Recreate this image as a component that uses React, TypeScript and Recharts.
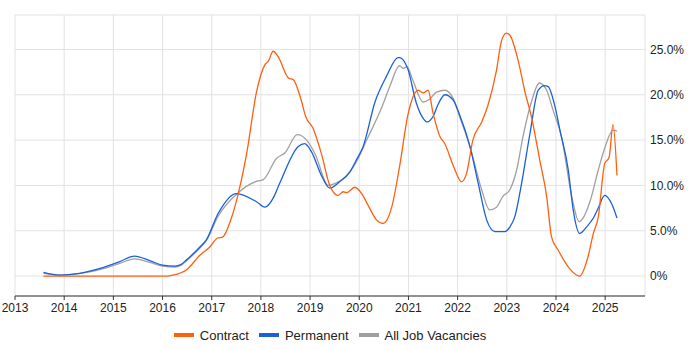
import { LineChart, Line, XAxis, YAxis, CartesianGrid, Legend } from 'recharts';

const yearTicks = [2013, 2014, 2015, 2016, 2017, 2018, 2019, 2020, 2021, 2022, 2023, 2024, 2025];
const pctTicks = [0, 5, 10, 15, 20, 25];

const contractYears = [
  2013.58, 2014.5, 2015.5, 2016.08, 2016.21, 2016.49, 2016.76, 2016.96, 2017.12, 2017.22, 2017.4, 2017.54,
  2017.71, 2017.91, 2018.08, 2018.15, 2018.25, 2018.35, 2018.57, 2018.65, 2018.82, 2018.91, 2019.06, 2019.23,
  2019.4, 2019.57, 2019.67, 2019.74, 2019.91, 2020.05, 2020.18, 2020.35, 2020.48, 2020.66, 2020.82, 2020.99,
  2021.2, 2021.3, 2021.4, 2021.5, 2021.64, 2021.74, 2021.91, 2022.08, 2022.18, 2022.31, 2022.49, 2022.62,
  2022.79, 2022.89, 2022.99, 2023.06, 2023.23, 2023.37, 2023.5, 2023.67, 2023.81, 2023.91, 2024.04, 2024.28,
  2024.48, 2024.65, 2024.76, 2024.86, 2024.99, 2025.08, 2025.16, 2025.24,
];
const contractValues = [
  0, 0, 0, 0, 0.1, 0.7, 2.3, 3.2, 4.2, 4.3, 6.4, 9.1,
  13.5, 20.3, 23.3, 23.7, 24.8, 24.2, 21.8, 21.7, 19.4, 17.6, 16.3, 13.5,
  10.0, 8.9, 9.3, 9.2, 9.8, 9.1, 7.8, 6.2, 5.8, 7.6, 12.1, 17.8,
  20.5, 20.2, 20.5, 18.0, 15.4, 14.6, 12.2, 10.4, 11.3, 15.0, 17.0, 18.9,
  22.7, 25.9, 26.8, 26.6, 23.8, 20.3, 17.6, 12.8, 8.8, 4.3, 2.9, 0.8,
  0, 2.1, 4.7, 6.5, 12.4, 13.1, 16.7, 11.1,
];

const permanentYears = [
  2013.58, 2013.91, 2014.32, 2014.64, 2015.13, 2015.43, 2015.74, 2016.0, 2016.25, 2016.38, 2016.49, 2016.76,
  2016.89, 2017.13, 2017.5, 2017.91, 2018.08, 2018.25, 2018.38, 2018.76, 2018.89, 2019.03, 2019.23, 2019.4,
  2019.6, 2019.81, 2019.94, 2020.08, 2020.32, 2020.55, 2020.79, 2020.82, 2020.99, 2021.16, 2021.3, 2021.38,
  2021.5, 2021.6, 2021.74, 2021.91, 2022.04, 2022.25, 2022.42, 2022.59, 2022.76, 2022.96, 2023.06, 2023.16,
  2023.3, 2023.47, 2023.64, 2023.77, 2023.84, 2023.98, 2024.08, 2024.25, 2024.35, 2024.48, 2024.62, 2024.76,
  2024.86, 2024.99, 2025.13, 2025.24,
];
const permanentValues = [
  0.4, 0.1, 0.3, 0.7, 1.6, 2.2, 1.7, 1.2, 1.1, 1.3, 1.8, 3.2,
  4.0, 6.9, 9.1, 8.2, 7.6, 8.6, 10.2, 14.3, 14.6, 13.7, 11.1, 9.7,
  10.4, 11.5, 12.8, 14.3, 19.2, 22.0, 24.1, 24.1, 22.8, 19.1, 17.4, 17.0,
  17.6, 18.9, 20.0, 19.4, 17.8, 14.3, 10.2, 6.2, 4.9, 4.9, 5.4, 6.5,
  10.2, 15.7, 20.5, 21.0, 20.9, 18.7, 16.1, 11.7, 7.3, 4.7, 5.4, 6.4,
  7.5, 8.9, 8.0, 6.4,
];

const allYears = [
  2013.58, 2013.91, 2014.32, 2014.64, 2015.13, 2015.43, 2015.74, 2016.0, 2016.25, 2016.38, 2016.49, 2016.76,
  2016.89, 2017.13, 2017.5, 2017.94, 2018.04, 2018.32, 2018.49, 2018.74, 2018.93, 2019.1, 2019.37, 2019.5,
  2019.81, 2019.94, 2020.15, 2020.45, 2020.62, 2020.82, 2020.9, 2020.97, 2021.09, 2021.3, 2021.43, 2021.57,
  2021.74, 2021.91, 2022.04, 2022.25, 2022.49, 2022.65, 2022.79, 2022.92, 2023.06, 2023.2, 2023.33, 2023.5,
  2023.66, 2023.81, 2023.94, 2024.11, 2024.32, 2024.47, 2024.55, 2024.69, 2024.86, 2024.99, 2025.16, 2025.24,
];
const allValues = [
  0.3, 0.1, 0.3, 0.6, 1.4, 1.9, 1.5, 1.1, 1.0, 1.2, 1.7, 3.1,
  3.9, 6.6, 9.0, 10.5, 10.6, 13.0, 13.6, 15.6, 15.0, 13.5, 10.0, 10.2,
  11.5, 12.6, 15.0, 18.5, 20.9, 23.2, 22.9, 23.1, 21.6, 19.2, 19.5, 20.3,
  20.5, 19.6, 17.6, 14.3, 9.5, 7.3, 7.6, 8.8, 9.5, 11.7, 15.4, 19.2,
  21.3, 20.5, 18.3, 15.4, 8.8, 6.0, 6.4, 8.2, 11.7, 14.1, 16.1, 16.0,
];

const SERIES = [
  { name: 'Contract', color: '#ff5f0f' },
  { name: 'Permanent', color: '#1a5fdc' },
  { name: 'All Job Vacancies', color: '#a0a0a0' },
];

const toPoints = (years: number[], values: number[]) =>
  years.map((year, i) => ({ year, value: values[i] }));

const contractData = toPoints(contractYears, contractValues);
const permanentData = toPoints(permanentYears, permanentValues);
const allData = toPoints(allYears, allValues);

const FONT = '"Liberation Sans", Arial, sans-serif';

function LegendContent() {
  return (
    <div style={{ display: 'flex', justifyContent: 'center', alignItems: 'center', height: 20, fontFamily: FONT, fontSize: 13, color: '#222' }}>
      {SERIES.map((s, i) => (
        <div key={s.name} style={{ display: 'flex', alignItems: 'center', marginLeft: i === 0 ? 0 : 10 }}>
          <span style={{ display: 'inline-block', width: 20, height: 4, background: s.color, marginRight: 6 }} />
          <span>{s.name}</span>
        </div>
      ))}
    </div>
  );
}

export default function App() {
  return (
    <div style={{ width: 700, height: 350 }}>
      <style>{'body{margin:0}'}</style>
      <LineChart width={700} height={350} margin={{ top: 15, right: 0, left: 15, bottom: 4 }}>
        <CartesianGrid stroke="#e2e2e2" strokeWidth={1} />
        <XAxis
          dataKey="year"
          type="number"
          domain={[2013, 2025.81]}
          ticks={yearTicks}
          allowDuplicatedCategory={false}
          height={30}
          tickSize={4}
          tickMargin={3}
          stroke="#333"
          tick={{ fill: '#222', fontSize: 12, fontFamily: FONT }}
        />
        <YAxis
          orientation="right"
          type="number"
          domain={[-2.2, 28.8]}
          ticks={pctTicks}
          width={55}
          axisLine={false}
          tickLine={false}
          tickSize={0}
          tickMargin={5}
          tick={{ fill: '#222', fontSize: 12, fontFamily: FONT, textAnchor: 'start' }}
          tickFormatter={(v: number) => (v === 0 ? '0%' : `${v.toFixed(1)}%`)}
        />
        <Line data={allData} dataKey="value" name="All Job Vacancies" type="monotone" stroke={SERIES[2].color} strokeWidth={1.3} dot={false} isAnimationActive={false} />
        <Line data={permanentData} dataKey="value" name="Permanent" type="monotone" stroke={SERIES[1].color} strokeWidth={1.3} dot={false} isAnimationActive={false} />
        <Line data={contractData} dataKey="value" name="Contract" type="monotone" stroke={SERIES[0].color} strokeWidth={1.3} dot={false} isAnimationActive={false} />
        <Legend verticalAlign="bottom" content={LegendContent} wrapperStyle={{ left: 0, width: 660, bottom: 5 }} />
      </LineChart>
    </div>
  );
}
